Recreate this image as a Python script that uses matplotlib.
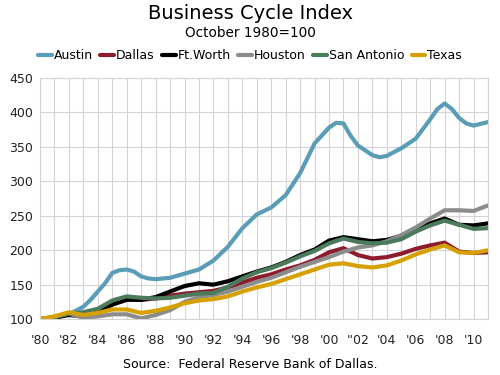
import numpy as np
import matplotlib
matplotlib.use("Agg")
import matplotlib.pyplot as plt

years = np.arange(1980, 2012)

# Austin read at a finer step around its turning points
austin_years = [1980, 1981, 1982, 1983, 1983.5, 1984, 1984.5, 1985, 1985.5, 1986, 1986.5,
                1987, 1987.5, 1988, 1989, 1990, 1991, 1992, 1993, 1994, 1995, 1996, 1997,
                1998, 1999, 2000, 2000.5, 2001, 2001.5, 2002, 2003, 2003.5, 2004, 2005,
                2006, 2007, 2007.5, 2008, 2008.5, 2009, 2009.5, 2010, 2011]
austin = [100, 102, 107, 118, 128, 140, 152, 167, 171, 172, 169, 162, 159, 158, 160, 166,
          172, 185, 205, 232, 252, 262, 280, 312, 355, 378, 385, 384, 366, 352, 338, 335,
          337, 348, 362, 390, 405, 413, 405, 392, 384, 381, 386]
dallas = [100, 103, 108, 106, 112, 125, 130, 128, 130, 134, 137, 139, 141, 146, 153, 160,
          165, 172, 178, 186, 197, 203, 193, 188, 190, 195, 202, 207, 211, 198, 196, 197]
ftworth = [100, 102, 106, 104, 110, 121, 128, 128, 132, 140, 148, 152, 150, 155, 162, 169,
           175, 183, 193, 201, 214, 219, 216, 213, 215, 221, 231, 239, 246, 237, 236, 239]
houston = [100, 103, 108, 102, 104, 107, 107, 101, 106, 113, 125, 132, 135, 140, 147, 154,
           160, 168, 176, 183, 190, 198, 204, 207, 213, 222, 233, 246, 258, 258, 257, 265]
sanantonio = [100, 103, 108, 110, 115, 127, 133, 131, 130, 131, 134, 137, 138, 147, 159, 168,
              174, 182, 191, 199, 210, 217, 212, 210, 211, 216, 227, 236, 243, 237, 231, 232]
texas = [100, 104, 110, 106, 109, 114, 114, 109, 112, 117, 123, 127, 129, 133, 140, 146,
         151, 158, 165, 172, 179, 181, 177, 175, 178, 185, 194, 201, 207, 197, 196, 200]

names = ["Austin", "Dallas", "Ft.Worth", "Houston", "San Antonio", "Texas"]
colors = ["#5b9db6", "#8e1b2e", "#000000", "#8c8c8c", "#4c7a5d", "#d6a100"]
xs = [austin_years, years, years, years, years, years]
series = [austin, dallas, ftworth, houston, sanantonio, texas]

xtick_pos = np.arange(1980, 2011, 2)
xtick_lab = ["'80", "'82", "'84", "'86", "'88", "'90", "'92", "'94", "'96", "'98",
             "'00", "''02", "'04", "'06", "'08", "'10"]

fig = plt.figure(figsize=(5, 3.75), dpi=100)
ax = fig.add_axes([0.08, 0.149, 0.896, 0.643])

for x, s, n, c in zip(xs, series, names, colors):
    ax.plot(x, s, color=c, lw=3, label=n, solid_joinstyle="round", solid_capstyle="round")

ax.set_xlim(1980, 2011)
ax.set_ylim(100, 450)
ax.set_xticks(np.arange(1980, 2012, 1), minor=True)
ax.set_xticks(xtick_pos)
ax.set_xticklabels(xtick_lab)
ax.set_yticks(np.arange(100, 451, 50))
ax.grid(True, which="both", color="#d4d4d4", lw=0.8)
ax.set_axisbelow(True)
ax.tick_params(which="both", length=0, labelsize=9, colors="#222222")
ax.tick_params(axis="x", pad=11)
ax.tick_params(axis="y", pad=5)
for sp in ax.spines.values():
    sp.set_color("#d4d4d4")
    sp.set_linewidth(0.8)

fig.text(0.5, 0.963, "Business Cycle Index", ha="center", va="center", fontsize=14)
fig.text(0.5, 0.913, "October 1980=100", ha="center", va="center", fontsize=9.8)
fig.legend(loc="center", bbox_to_anchor=(0.5, 0.852), ncol=6, frameon=False,
           fontsize=9, handlelength=1.1, handletextpad=0.15, columnspacing=0.6,
           borderaxespad=0)
fig.text(0.5, 0.027, "Source:  Federal Reserve Bank of Dallas.", ha="center", va="center",
         fontsize=9)

fig.savefig("out.png", dpi=100)
